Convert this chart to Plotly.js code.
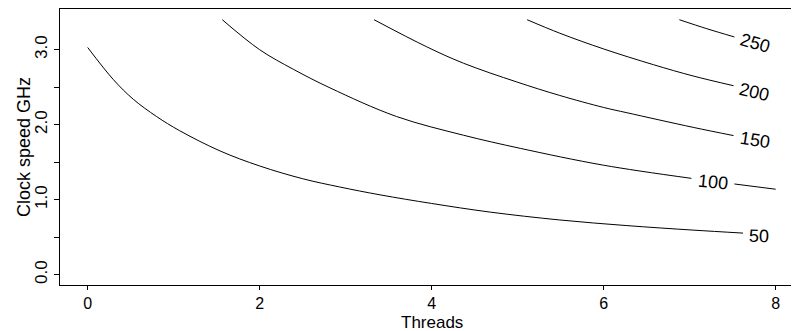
<!DOCTYPE html>
<html>
<head>
<meta charset="utf-8">
<script src="https://cdn.plot.ly/plotly-3.0.1.min.js"></script>
<style>
html, body { margin: 0; padding: 0; background: #fff; overflow: hidden; }
#chart { width: 792px; height: 331px; }
</style>
</head>
<body>
<div id="chart"></div>
<script>
// Contour levels and their lines (x = threads, y = clock GHz)
const levels = [50, 100, 150, 200, 250];

const line50x  = [0.0, 0.30, 0.53, 0.80, 1.07, 1.54, 2.0, 2.5, 2.93, 3.4, 4.0, 4.68, 5.49, 6.27, 7.04, 7.62];
const line50y  = [3.03, 2.60, 2.34, 2.11, 1.92, 1.65, 1.45, 1.28, 1.17, 1.065, 0.95, 0.835, 0.73, 0.655, 0.595, 0.555];

const line100x = [1.565, 2.0, 2.39, 2.82, 3.59, 4.37, 5.03, 6.0, 7.02, null, 7.52, 8.0];
const line100y = [3.40, 3.00, 2.74, 2.49, 2.11, 1.86, 1.685, 1.46, 1.285, null, 1.21, 1.14];

const line150x = [3.33, 3.94, 4.37, 4.99, 5.49, 6.0, 6.27, 7.04, 7.51];
const line150y = [3.40, 3.04, 2.82, 2.57, 2.39, 2.23, 2.16, 1.965, 1.855];

const line200x = [5.11, 5.49, 6.0, 6.58, 7.04, 7.51];
const line200y = [3.40, 3.22, 3.01, 2.80, 2.65, 2.52];

const line250x = [6.88, 7.2, 7.52];
const line250y = [3.40, 3.28, 3.17];

// Inline contour labels
const labelText  = ['50', '100', '150', '200', '250'];
const labelX     = [7.81, 7.27, 7.76, 7.75, 7.76];
const labelY     = [0.515, 1.23, 1.79, 2.43, 3.085];
const labelAngle = [2, 6, 9, 13, 16];

// Axis ticks
const xTicks = [0, 2, 4, 6, 8];
const yTicks = [0, 1, 2, 3];
const yTickText = ['0.0', '1.0', '2.0', '3.0'];
const yMinorTicks = [0.5, 1.5, 2.5];

const xTitle = 'Threads';
const yTitle = 'Clock speed GHz';

const FONT = 'Liberation Sans, Arial, Helvetica, sans-serif';

const lineSets = [
  [line50x, line50y], [line100x, line100y], [line150x, line150y],
  [line200x, line200y], [line250x, line250y]
];

const traces = lineSets.map((s, i) => ({
  type: 'scatter', mode: 'lines',
  x: s[0], y: s[1],
  name: String(levels[i]),
  connectgaps: false,
  line: { color: '#000', width: 1, shape: 'spline', smoothing: 1 },
  hoverinfo: 'skip', showlegend: false
}));

const annotations = labelText.map((t, i) => ({
  xref: 'x', yref: 'y', x: labelX[i], y: labelY[i],
  text: t, showarrow: false, textangle: labelAngle[i],
  xanchor: 'center', yanchor: 'middle',
  font: { family: FONT, size: 18, color: '#000' }
}));

annotations.push({
  xref: 'x', yref: 'paper', x: 4, y: 0, yshift: -37,
  text: xTitle, showarrow: false, xanchor: 'center', yanchor: 'middle',
  borderpad: 0,
  font: { family: FONT, size: 17, color: '#000' }
});
annotations.push({
  xref: 'paper', yref: 'paper', x: 0, y: 0.5, xshift: -36,
  text: yTitle, showarrow: false, textangle: -90,
  xanchor: 'center', yanchor: 'middle',
  font: { family: FONT, size: 18, color: '#000' }
});

const layout = {
  width: 792, height: 331,
  margin: { l: 60, r: 1, t: 9, b: 46, pad: 0 },
  paper_bgcolor: '#fff', plot_bgcolor: '#fff',
  showlegend: false,
  font: { family: FONT, color: '#000' },
  xaxis: {
    range: [-0.322, 8.178],
    tickmode: 'array', tickvals: xTicks, ticktext: xTicks.map(String),
    ticks: 'outside', ticklen: 4, tickwidth: 1, tickcolor: '#000',
    showline: true, linecolor: '#000', linewidth: 1, mirror: true,
    showgrid: false, zeroline: false,
    tickfont: { family: FONT, size: 16, color: '#000' }
  },
  yaxis: {
    range: [-0.137, 3.543],
    tickmode: 'array', tickvals: yTicks, ticktext: yTickText,
    tickangle: -90,
    ticks: 'outside', ticklen: 5, tickwidth: 1, tickcolor: '#000',
    minor: { tickmode: 'array', tickvals: yMinorTicks, ticks: 'outside', ticklen: 5, tickwidth: 1, tickcolor: '#000', showgrid: false },
    showline: true, linecolor: '#000', linewidth: 1,
    showgrid: false, zeroline: false,
    tickfont: { family: FONT, size: 17, color: '#000' }
  },
  annotations: annotations
};

Plotly.newPlot('chart', traces, layout, { displayModeBar: false, staticPlot: true });
</script>
</body>
</html>
